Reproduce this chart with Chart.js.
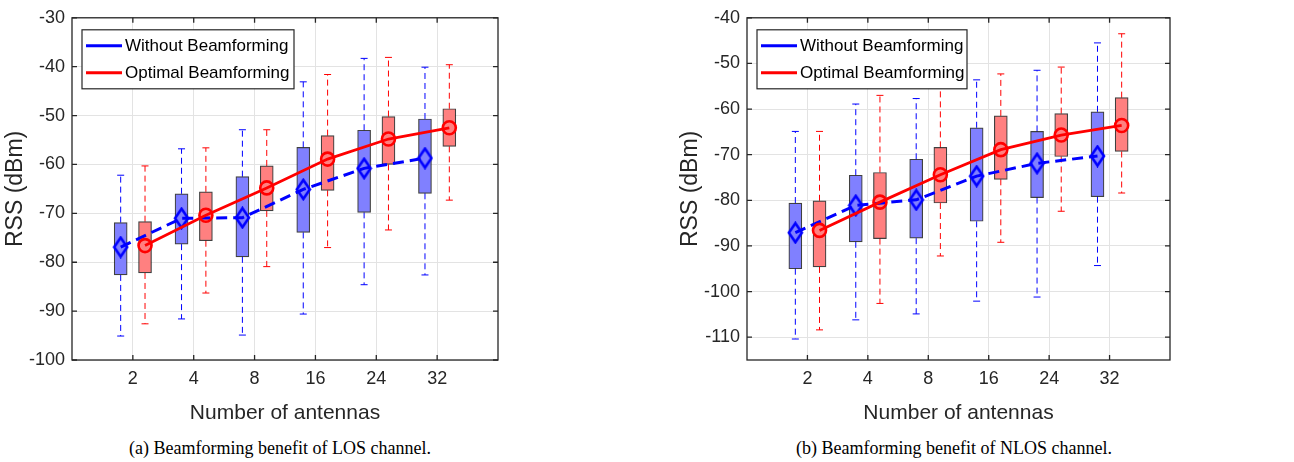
<!DOCTYPE html>
<html>
<head>
<meta charset="utf-8">
<script src="https://cdn.jsdelivr.net/npm/chart.js@4.4.1/dist/chart.umd.min.js"></script>
<style>
  body { margin: 0; background: #fff; width: 1294px; height: 462px; position: relative; overflow: hidden; }
  .panel { position: absolute; top: 0; }
  .caption { position: absolute; top: 438px; font: 18px "Liberation Serif", "Times New Roman", serif; color: #000; white-space: nowrap; transform: translateX(-50%); }
</style>
</head>
<body>
<div class="panel" style="left:0"><canvas id="losChart" width="647" height="430"></canvas></div>
<div class="panel" style="left:647px"><canvas id="nlosChart" width="647" height="430"></canvas></div>
<div class="caption" style="left:280px">(a) Beamforming benefit of LOS channel.</div>
<div class="caption" style="left:954px">(b) Beamforming benefit of NLOS channel.</div>

<script>
const antennas = ["2", "4", "8", "16", "24", "32"];
const seriesNames = ["Without Beamforming", "Optimal Beamforming"];

// LOS channel, RSS in dBm
const losNoBfMean = [-76.9, -71.0, -70.9, -65.1, -60.8, -58.7];
const losNoBfQ1   = [-82.6, -76.3, -78.9, -73.9, -69.8, -65.9];
const losNoBfQ3   = [-71.9, -66.0, -62.5, -56.5, -53.0, -50.7];
const losNoBfMin  = [-95.1, -91.6, -94.9, -90.6, -84.6, -82.6];
const losNoBfMax  = [-62.2, -56.8, -52.9, -43.1, -38.3, -40.1];
const losOptMean  = [-76.6, -70.4, -64.8, -58.9, -54.8, -52.5];
const losOptQ1    = [-82.2, -75.6, -69.5, -65.3, -60.0, -56.3];
const losOptQ3    = [-71.7, -65.6, -60.3, -54.1, -50.2, -48.6];
const losOptMin   = [-92.6, -86.3, -80.9, -77.0, -73.4, -67.3];
const losOptMax   = [-60.3, -56.6, -52.9, -41.6, -38.1, -39.6];

// NLOS channel, RSS in dBm
const nlosNoBfMean = [-87.1, -81.1, -79.9, -74.7, -71.9, -70.3];
const nlosNoBfQ1   = [-95.0, -89.1, -88.3, -84.6, -79.4, -79.2];
const nlosNoBfQ3   = [-80.6, -74.5, -71.0, -64.1, -64.9, -60.6];
const nlosNoBfMin  = [-110.4, -106.2, -104.9, -102.1, -101.2, -94.3];
const nlosNoBfMax  = [-64.9, -58.9, -57.7, -53.6, -51.5, -45.5];
const nlosOptMean  = [-86.6, -80.4, -74.4, -68.9, -65.7, -63.6];
const nlosOptQ1    = [-94.6, -88.4, -80.6, -75.4, -70.4, -69.3];
const nlosOptQ3    = [-80.1, -73.9, -68.4, -61.5, -61.0, -57.5];
const nlosOptMin   = [-108.4, -102.6, -92.2, -89.2, -82.4, -78.4];
const nlosOptMax   = [-64.9, -57.0, -55.0, -52.3, -50.8, -43.5];

const SHIFT = 0.2;
const BLUE = "#0000ff";
const RED = "#ff0000";
const AXIS = "#262626";
const FONT = "'Liberation Sans', Arial, sans-serif";

// tall diamond marker for the mean of the unbeamformed case
function diamondMarker() {
  const c = document.createElement("canvas");
  c.width = 17; c.height = 23;
  const g = c.getContext("2d");
  g.strokeStyle = BLUE;
  g.lineWidth = 2.6;
  g.beginPath();
  g.moveTo(8.5, 2); g.lineTo(15, 11.5); g.lineTo(8.5, 21); g.lineTo(2, 11.5);
  g.closePath();
  g.stroke();
  return c;
}

function boxDataset(q1, q3, shift, fill) {
  return {
    type: "bar",
    data: q1.map((lo, i) => ({ x: i + 1 + shift, y: [lo, q3[i]] })),
    backgroundColor: fill,
    borderColor: "rgba(0,0,0,0.75)",
    borderWidth: 1.2,
    borderSkipped: false,
    barThickness: 13,
    grouped: false,
    order: 2
  };
}

function whiskerDataset(q1, q3, lo, hi, shift, color) {
  const pts = [];
  const radius = [];
  q1.forEach((v, i) => {
    const x = i + 1 + shift;
    pts.push({ x, y: q3[i] }, { x, y: hi[i] }, { x, y: null },
             { x, y: v }, { x, y: lo[i] }, { x, y: null });
    radius.push(0, 3.5, 0, 0, 3.5, 0);
  });
  return {
    type: "line",
    data: pts,
    borderColor: color,
    borderWidth: 1,
    borderDash: [6, 4],
    pointStyle: "line",
    pointRadius: radius,
    pointBorderWidth: 1,
    pointBorderColor: color,
    spanGaps: false,
    fill: false,
    order: 3
  };
}

function meanDataset(mean, shift, color, extra) {
  return Object.assign({
    type: "line",
    data: mean.map((v, i) => ({ x: i + 1 + shift, y: v })),
    borderColor: color,
    pointBorderColor: color,
    pointBackgroundColor: "rgba(0,0,0,0)",
    fill: false,
    order: 0
  }, extra);
}

const framePlugin = {
  id: "frame",
  afterDraw(chart, args, opts) {
    const { ctx, chartArea: a, scales: { x, y } } = chart;
    ctx.save();
    ctx.strokeStyle = AXIS;
    ctx.lineWidth = 1.3;
    ctx.strokeRect(a.left, a.top, a.width, a.height);

    // inward tick marks on all four sides
    ctx.beginPath();
    x.ticks.forEach(t => {
      const px = x.getPixelForValue(t.value);
      ctx.moveTo(px, a.bottom); ctx.lineTo(px, a.bottom - 5);
      ctx.moveTo(px, a.top); ctx.lineTo(px, a.top + 5);
    });
    y.ticks.forEach(t => {
      const py = y.getPixelForValue(t.value);
      ctx.moveTo(a.left, py); ctx.lineTo(a.left + 5, py);
      ctx.moveTo(a.right, py); ctx.lineTo(a.right - 5, py);
    });
    ctx.stroke();

    // legend box in the upper-left corner
    const bx = a.left + 10, by = a.top + 12, bw = opts.legendWidth, bh = 59;
    ctx.fillStyle = "#fff";
    ctx.fillRect(bx, by, bw, bh);
    ctx.lineWidth = 1.2;
    ctx.strokeStyle = AXIS;
    ctx.strokeRect(bx, by, bw, bh);
    [BLUE, RED].forEach((color, k) => {
      const ly = by + 16 + k * 27;
      ctx.strokeStyle = color;
      ctx.lineWidth = 3;
      ctx.beginPath();
      ctx.moveTo(bx + 4, ly); ctx.lineTo(bx + 40, ly);
      ctx.stroke();
      ctx.fillStyle = "#000";
      ctx.font = "17px " + FONT;
      ctx.textBaseline = "middle";
      ctx.textAlign = "left";
      ctx.fillText(seriesNames[k], bx + 43, ly + 1);
    });
    ctx.restore();
  }
};

function buildChart(id, s, yMin, yMax, padLeft, padRight, legendWidth) {
  const diamond = diamondMarker();
  new Chart(document.getElementById(id), {
    type: "bar",
    data: {
      datasets: [
        whiskerDataset(s.noQ1, s.noQ3, s.noMin, s.noMax, -SHIFT, BLUE),
        whiskerDataset(s.optQ1, s.optQ3, s.optMin, s.optMax, SHIFT, RED),
        boxDataset(s.noQ1, s.noQ3, -SHIFT, "#8080ff"),
        boxDataset(s.optQ1, s.optQ3, SHIFT, "#ff8080"),
        meanDataset(s.noMean, -SHIFT, BLUE, {
          borderWidth: 3, borderDash: [11, 6],
          pointStyle: diamond, pointRadius: 7, order: 1
        }),
        meanDataset(s.optMean, SHIFT, RED, {
          borderWidth: 2.8, pointStyle: "circle",
          pointRadius: 6.5, pointBorderWidth: 2.6, order: 0
        })
      ]
    },
    options: {
      responsive: false,
      animation: false,
      layout: { padding: { left: padLeft, right: padRight, top: 13, bottom: 0 } },
      plugins: {
        legend: { display: false },
        tooltip: { enabled: false },
        frame: { legendWidth }
      },
      scales: {
        x: {
          type: "linear",
          min: 0,
          max: 7,
          offset: false,
          afterBuildTicks: scale => { scale.ticks = antennas.map((_, i) => ({ value: i + 1 })); },
          afterFit: scale => { scale.height = 70; },
          ticks: {
            callback: v => antennas[v - 1],
            color: AXIS,
            font: { family: FONT, size: 18 },
            padding: 8,
            maxRotation: 0,
            autoSkip: false
          },
          grid: { color: "#e3e3e3", drawTicks: false, offset: false },
          border: { display: false },
          title: {
            display: true,
            text: "Number of antennas",
            color: AXIS,
            font: { family: FONT, size: 21 },
            padding: { top: 0, bottom: 4 }
          }
        },
        y: {
          min: yMin,
          max: yMax,
          afterFit: scale => { scale.width = 72; },
          ticks: {
            stepSize: 10,
            includeBounds: false,
            color: AXIS,
            font: { family: FONT, size: 18 },
            padding: 7
          },
          grid: { color: "#e3e3e3", drawTicks: false },
          border: { display: false },
          title: {
            display: true,
            text: "RSS (dBm)",
            color: AXIS,
            font: { family: FONT, size: 23 },
            padding: { top: 2, bottom: 0 }
          }
        }
      }
    },
    plugins: [framePlugin]
  });
}

buildChart("losChart", {
  noMean: losNoBfMean, noQ1: losNoBfQ1, noQ3: losNoBfQ3, noMin: losNoBfMin, noMax: losNoBfMax,
  optMean: losOptMean, optQ1: losOptQ1, optQ3: losOptQ3, optMin: losOptMin, optMax: losOptMax
}, -100, -30, 0, 149, 212);

buildChart("nlosChart", {
  noMean: nlosNoBfMean, noQ1: nlosNoBfQ1, noQ3: nlosNoBfQ3, noMin: nlosNoBfMin, noMax: nlosNoBfMax,
  optMean: nlosOptMean, optQ1: nlosOptQ1, optQ3: nlosOptQ3, optMin: nlosOptMin, optMax: nlosOptMax
}, -115, -40, 28, 124, 210);
</script>
</body>
</html>
